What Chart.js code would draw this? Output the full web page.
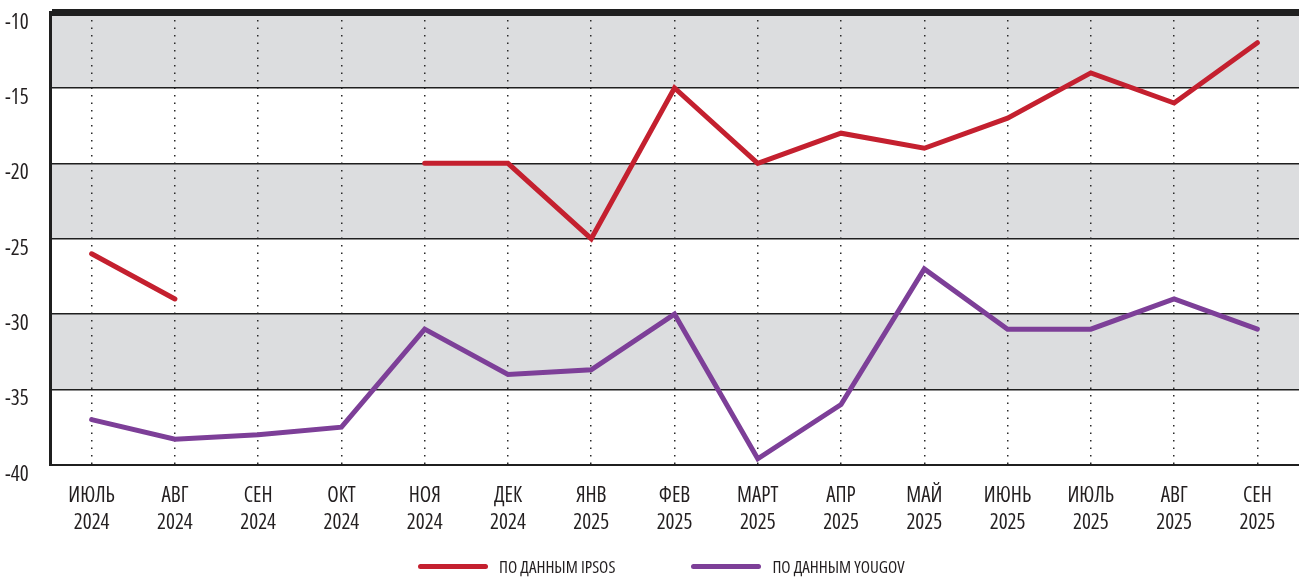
<!DOCTYPE html>
<html>
<head>
<meta charset="utf-8">
<script src="https://cdn.jsdelivr.net/npm/chart.js@4.4.1/dist/chart.umd.min.js"></script>
<style>
  body { margin: 0; background: #fff; }
  #wrap { position: relative; width: 1299px; height: 577px; }
  #legend { position: absolute; left: 418px; top: 555px; display: flex; align-items: center;
    font-family: "Open Sans", sans-serif; font-stretch: condensed;
    font-size: 17px; color: #231f20; height: 22px; }
  .item { display: flex; align-items: center; margin-right: 76px; }
  .swatch { width: 70px; height: 5px; border-radius: 3px; margin-right: 11px; }
</style>
</head>
<body>
<div id="wrap">
  <canvas id="chart" width="1299" height="577"></canvas>
  <div id="legend"></div>
</div>
<script>
const months = [
  ['ИЮЛЬ', '2024'], ['АВГ', '2024'], ['СЕН', '2024'], ['ОКТ', '2024'], ['НОЯ', '2024'],
  ['ДЕК', '2024'], ['ЯНВ', '2025'], ['ФЕВ', '2025'], ['МАРТ', '2025'], ['АПР', '2025'],
  ['МАЙ', '2025'], ['ИЮНЬ', '2025'], ['ИЮЛЬ', '2025'], ['АВГ', '2025'], ['СЕН', '2025']
];
const ipsos = [-26, -29, null, null, -20, -20, -25, -15, -20, -18, -19, -17, -14, -16, -12];
const yougov = [-37, -38.3, -38, -37.5, -31, -34, -33.7, -30, -39.6, -36, -27, -31, -31, -29, -31];
const seriesNames = ['ПО ДАННЫМ IPSOS', 'ПО ДАННЫМ YOUGOV'];
const seriesColors = ['#c4202f', '#7d3f98'];
const yTicks = [-40, -35, -30, -25, -20, -15, -10];
// grey bands: -15..-10, -25..-20, -35..-30
const bands = [[-15, -10], [-25, -20], [-35, -30]];

// "condensed" goes into the canvas font string -> narrow Open Sans
const fontFamily = '"Open Sans", sans-serif';

const bandPlugin = {
  id: 'bands',
  beforeDraw(chart) {
    const { ctx, chartArea, scales } = chart;
    ctx.save();
    ctx.fillStyle = '#dcdddf';
    bands.forEach(([a, b]) => {
      const y1 = scales.y.getPixelForValue(b);
      const y2 = scales.y.getPixelForValue(a);
      ctx.fillRect(chartArea.left, y1, chartArea.right - chartArea.left, y2 - y1);
    });
    ctx.restore();
  }
};

new Chart(document.getElementById('chart'), {
  type: 'line',
  data: {
    labels: months,
    datasets: [
      { label: seriesNames[0], data: ipsos, borderColor: seriesColors[0], backgroundColor: seriesColors[0] },
      { label: seriesNames[1], data: yougov, borderColor: seriesColors[1], backgroundColor: seriesColors[1] }
    ]
  },
  options: {
    responsive: false,
    animation: false,
    spanGaps: false,
    elements: {
      line: { borderWidth: 5, tension: 0, borderCapStyle: 'round' },
      point: { radius: 0, hoverRadius: 0 }
    },
    layout: { padding: { left: 5, top: 12, right: 0, bottom: 22 } },
    plugins: {
      legend: { display: false },
      tooltip: { enabled: false }
    },
    scales: {
      x: {
        offset: true,
        grid: { offset: false, drawTicks: false, color: '#2a2a2a', lineWidth: 1.5 },
        border: { display: false, dash: [1.5, 6] },
        ticks: {
          padding: 18,
          maxRotation: 0,
          autoSkip: false,
          color: '#231f20',
          font: { family: fontFamily, weight: 'condensed', size: 21, lineHeight: 1.29 }
        }
      },
      y: {
        min: -40,
        max: -10,
        afterBuildTicks(scale) { scale.ticks = yTicks.map(v => ({ value: v })); },
        afterFit(scale) { scale.width = 45; },
        grid: {
          drawTicks: false,
          color: '#1f1f1f',
          lineWidth: ctx => ctx.tick && ctx.tick.value === -10 ? 7 : (ctx.tick && ctx.tick.value === -40 ? 2 : 1.5)
        },
        border: { display: true, width: 3, color: '#1f1f1f' },
        ticks: {
          crossAlign: 'far',
          labelOffset: 10,
          padding: 0,
          color: '#231f20',
          font: { family: fontFamily, weight: 'condensed', size: 21 }
        }
      }
    }
  },
  plugins: [bandPlugin]
});

const legend = document.getElementById('legend');
seriesNames.forEach((name, i) => {
  const item = document.createElement('div');
  item.className = 'item';
  const sw = document.createElement('span');
  sw.className = 'swatch';
  sw.style.background = seriesColors[i];
  const txt = document.createElement('span');
  txt.textContent = name;
  item.appendChild(sw);
  item.appendChild(txt);
  legend.appendChild(item);
});
</script>
</body>
</html>
